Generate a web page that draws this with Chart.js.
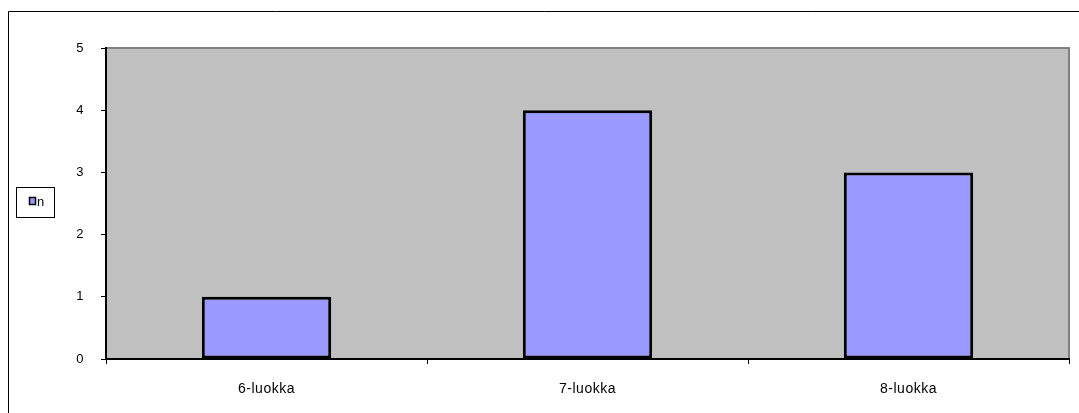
<!DOCTYPE html>
<html>
<head>
<meta charset="utf-8">
<style>
  html, body { margin: 0; padding: 0; background: #ffffff; }
  #wrap { width: 1079px; height: 413px; position: relative; }
  canvas { display: block; }
</style>
<script src="https://cdn.jsdelivr.net/npm/chart.js@4/dist/chart.umd.min.js"></script>
</head>
<body>
<div id="wrap"><canvas id="c" width="1079" height="413"></canvas></div>
<script>
// Class categories and their counts
const categories = ['6-luokka', '7-luokka', '8-luokka'];
const seriesLabel = 'n';
const counts = [1, 4, 3];
const yTicks = [0, 1, 2, 3, 4, 5];

const FONT = "'Liberation Sans', Arial, sans-serif";

// Gray plot background, frame around the whole chart, and the boxed legend
const decorations = {
  id: 'decorations',
  beforeDraw(chart) {
    const { ctx, chartArea: a } = chart;
    ctx.letterSpacing = '0.5px';
    ctx.save();
    ctx.fillStyle = '#ffffff';
    ctx.fillRect(0, 0, chart.width, chart.height);
    // outer chart frame (left and top edges visible)
    ctx.strokeStyle = '#000000';
    ctx.lineWidth = 1;
    ctx.beginPath();
    ctx.moveTo(8.5, chart.height + 2);
    ctx.lineTo(8.5, 11.5);
    ctx.lineTo(chart.width + 2, 11.5);
    ctx.stroke();
    // plot area
    ctx.fillStyle = '#C0C0C0';
    ctx.fillRect(a.left, a.top, a.right - a.left, a.bottom - a.top);
    ctx.strokeStyle = '#808080';
    ctx.lineWidth = 2;
    ctx.beginPath();
    ctx.moveTo(a.left, a.top);
    ctx.lineTo(a.right, a.top);
    ctx.lineTo(a.right, a.bottom);
    ctx.stroke();
    ctx.restore();
  },
  afterDraw(chart) {
    const { ctx } = chart;
    const ds = chart.data.datasets[0];
    ctx.save();
    // legend box
    ctx.strokeStyle = '#000000';
    ctx.lineWidth = 1;
    ctx.strokeRect(16.5, 187.5, 38, 30);
    // legend swatch
    ctx.fillStyle = ds.backgroundColor;
    ctx.fillRect(29, 197, 7, 8);
    ctx.lineWidth = 1.5;
    ctx.strokeRect(29.5, 197.5, 6, 7);
    // legend label
    ctx.fillStyle = '#000000';
    ctx.font = '13px ' + FONT;
    ctx.textBaseline = 'alphabetic';
    ctx.textAlign = 'left';
    ctx.fillText(ds.label, 37, 206);
    ctx.restore();
  }
};

new Chart(document.getElementById('c'), {
  type: 'bar',
  data: {
    labels: categories,
    datasets: [{
      label: seriesLabel,
      data: counts,
      backgroundColor: '#9999FF',
      borderColor: '#000000',
      borderWidth: 3,
      borderSkipped: false,
      categoryPercentage: 1.0,
      barPercentage: 0.403
    }]
  },
  options: {
    responsive: false,
    animation: false,
    devicePixelRatio: 1,
    layout: { padding: { left: 0, top: 48, right: 10, bottom: 0 } },
    plugins: {
      legend: { display: false },
      tooltip: { enabled: false },
      title: { display: false }
    },
    scales: {
      x: {
        offset: true,
        grid: {
          offset: true,
          drawOnChartArea: false,
          drawTicks: true,
          tickLength: 5,
          color: '#000000',
          lineWidth: 1
        },
        border: { display: true, color: '#000000', width: 2 },
        ticks: {
          color: '#000000',
          font: { family: FONT, size: 14 },
          padding: 17,
          maxRotation: 0
        },
        afterFit(scale) { scale.height = 54; }
      },
      y: {
        min: 0,
        max: 5,
        afterBuildTicks(scale) { scale.ticks = yTicks.map(v => ({ value: v })); },
        grid: {
          drawOnChartArea: false,
          drawTicks: true,
          tickLength: 5,
          color: '#000000',
          lineWidth: 1
        },
        border: { display: true, color: '#000000', width: 2 },
        ticks: {
          color: '#000000',
          font: { family: FONT, size: 13 },
          padding: 17
        },
        afterFit(scale) { scale.width = 106; }
      }
    }
  },
  plugins: [decorations]
});
</script>
</body>
</html>
